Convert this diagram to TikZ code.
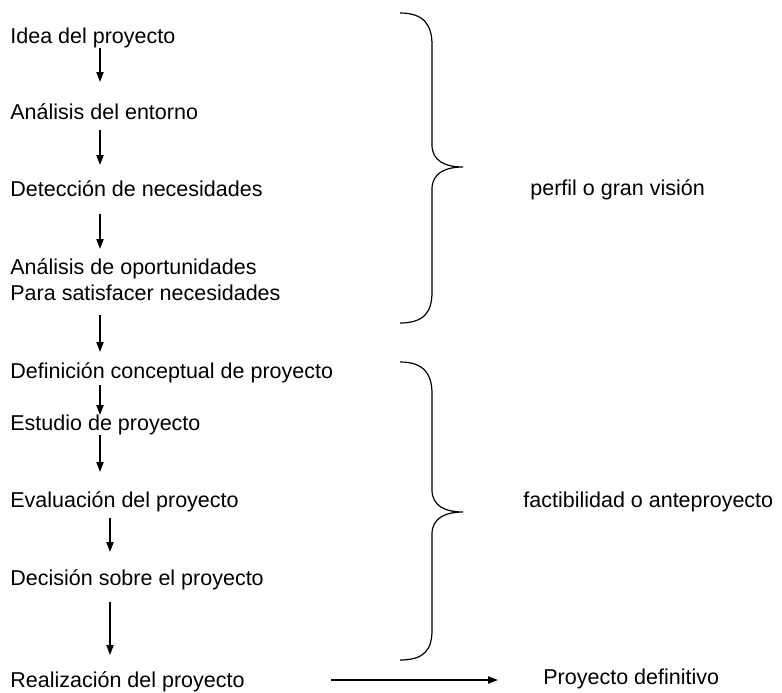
\documentclass[tikz,border=0pt]{standalone}
\usepackage{fontspec}
\setmainfont{Liberation Sans}
\usetikzlibrary{arrows.meta,calc}

\begin{document}
\begin{tikzpicture}[x=0.5pt,y=-0.5pt,
    paso/.style={anchor=base west,inner sep=0pt,font=\fontsize{10.75}{13}\selectfont},
    flecha/.style={line width=0.7pt,-{Triangle[length=5pt,width=3.6pt]}},
    llave/.style={line width=0.6pt}]
    \useasboundingbox(0,0)rectangle(782,692);

    \node[paso](idea)at(10,43){Idea del proyecto};
    \node[paso](entorno)at(10,119){Análisis del entorno};
    \node[paso](necesidades)at(10,196){Detección de necesidades};
    \node[paso](oport)at(10,274){Análisis de oportunidades};
    \node[paso](satisf)at(10,300){Para satisfacer necesidades};
    \node[paso](concepto)at(10,378){Definición conceptual de proyecto};
    \node[paso](estudio)at(10,430){Estudio de proyecto};
    \node[paso](evaluacion)at(10,507){Evaluación del proyecto};
    \node[paso](decision)at(10,585){Decisión sobre el proyecto};
    \node[paso](realizacion)at(10,687){Realización del proyecto};

    \node[paso](perfil)at(530,195){perfil o gran visión};
    \node[paso](factib)at(523,507){factibilidad o anteproyecto};
    \node[paso](definitivo)at(543,684){Proyecto definitivo};

    % flechas: origen/destino/x/hueco abajo/hueco arriba
    \foreach \a/\b/\x/\s/\e in {idea/entorno/90/5/37, entorno/necesidades/90/11/31,
        necesidades/oport/90/18/25, satisf/concepto/90/15/26, concepto/estudio/90/7/15,
        estudio/evaluacion/90/5/35, evaluacion/decision/100/11/33, decision/realizacion/100/17/32}
        \draw[flecha]($(\a.base west)+(\x,\s)$)--($(\b.base west)+(\x,-\e)$);
    \draw[flecha]($(realizacion.base east)+(86,-7)$)--($(definitivo.base west)+(-45,-4)$);

    % llaves
    \draw[llave](400,13)..controls(424,13)and(432,25)..(432,45)--(432,145)
        ..controls(432,160)and(444,167)..(463,167)..controls(444,167)and(432,174)..(432,189)
        --(432,292)..controls(432,312)and(424,323)..(400,323);
    \draw[llave](400,362)..controls(424,362)and(432,374)..(432,394)--(432,490)
        ..controls(432,505)and(444,512)..(463,512)..controls(444,512)and(432,519)..(432,534)
        --(432,630)..controls(432,650)and(424,660)..(400,660);
\end{tikzpicture}
\end{document}
